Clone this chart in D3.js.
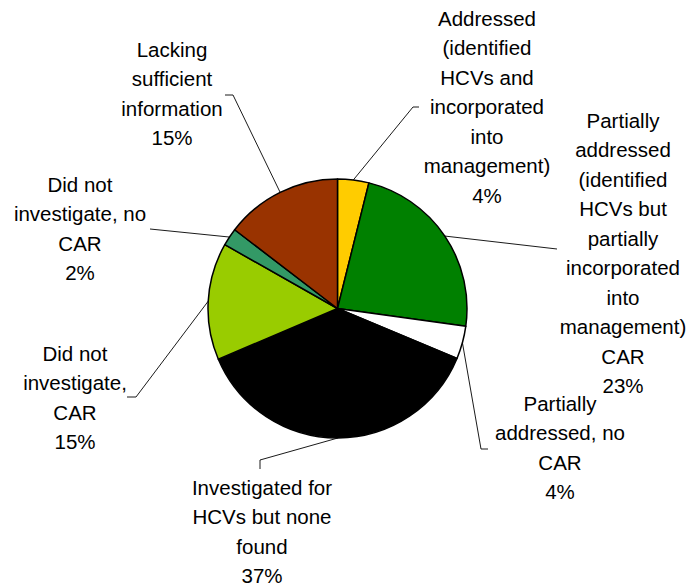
<!DOCTYPE html>
<html>
<head>
<meta charset="utf-8">
<script src="https://cdn.jsdelivr.net/npm/d3@7"></script>
<style>
  html, body { margin: 0; padding: 0; background: #ffffff; }
  svg { display: block; }
  text { font-family: "Liberation Sans", Arial, sans-serif; font-size: 20.5px; fill: #000; }
</style>
</head>
<body>
<svg id="chart" width="686" height="586"></svg>
<script>
// ---- data ----
const categories = [
  "Addressed (identified HCVs and incorporated into management)",
  "Partially addressed (identified HCVs but partially incorporated into management) CAR",
  "Partially addressed, no CAR",
  "Investigated for HCVs but none found",
  "Did not investigate, CAR",
  "Did not investigate, no CAR",
  "Lacking sufficient information"
];
const values = [3.9, 23.3, 4.1, 37.3, 14.6, 2.2, 14.6];
const percentLabels = ["4%", "23%", "4%", "37%", "15%", "2%", "15%"];
const labelLines = [
  ["Addressed", "(identified", "HCVs and", "incorporated", "into", "management)"],
  ["Partially", "addressed", "(identified", "HCVs but", "partially", "incorporated", "into", "management)", "CAR"],
  ["Partially", "addressed, no", "CAR"],
  ["Investigated for", "HCVs but none", "found"],
  ["Did not", "investigate,", "CAR"],
  ["Did not", "investigate, no", "CAR"],
  ["Lacking", "sufficient", "information"]
];
const colors = ["#FFCC00", "#008000", "#FFFFFF", "#000000", "#99CC00", "#339966", "#993300"];

// ---- layout (label text centre x / first baseline y; leader elbow and end points) ----
const labelPos = [
  {x: 487, y: 25.5}, {x: 623, y: 127.5}, {x: 560, y: 410.5}, {x: 262, y: 494.5},
  {x: 75, y: 360.5}, {x: 80, y: 191.5}, {x: 172, y: 56.5}
];
const leaderPts = [
  [[413, 107], [419, 107]],
  [[557, 249], [557, 249]],
  [[481, 449], [488, 449]],
  [[260, 460], [260, 469]],
  [[136, 397], [127, 397]],
  [[150, 229], [150, 229]],
  [[233, 95], [225, 95]]
];
const lineH = 29.5;
const cx = 337.5, cy = 308.5, R = 129.5;

const svg = d3.select("#chart");
const g = svg.append("g").attr("transform", `translate(${cx},${cy})`);

const pie = d3.pie().sort(null).value(d => d)(values);
const arc = d3.arc().innerRadius(0).outerRadius(R);
const edgeArc = d3.arc().innerRadius(R).outerRadius(R);

g.selectAll("path.slice")
  .data(pie)
  .join("path")
  .attr("class", "slice")
  .attr("d", arc)
  .attr("fill", (d, i) => colors[i])
  .attr("stroke", "#000")
  .attr("stroke-width", 1.5)
  .attr("stroke-linejoin", "round");

// leader lines
const line = d3.line();
svg.selectAll("path.leader")
  .data(pie)
  .join("path")
  .attr("class", "leader")
  .attr("d", (d, i) => {
    const c = edgeArc.centroid(d);
    const start = [cx + c[0], cy + c[1]];
    return line([start, leaderPts[i][0], leaderPts[i][1]]);
  })
  .attr("fill", "none")
  .attr("stroke", "#000")
  .attr("stroke-width", 0.9);

// labels
pie.forEach((d, i) => {
  const lines = labelLines[i].concat([percentLabels[i]]);
  const t = svg.append("text")
    .attr("text-anchor", "middle")
    .attr("x", labelPos[i].x)
    .attr("y", labelPos[i].y);
  lines.forEach((s, k) => {
    t.append("tspan")
      .attr("x", labelPos[i].x)
      .attr("y", labelPos[i].y + k * lineH)
      .text(s);
  });
});
</script>
</body>
</html>
